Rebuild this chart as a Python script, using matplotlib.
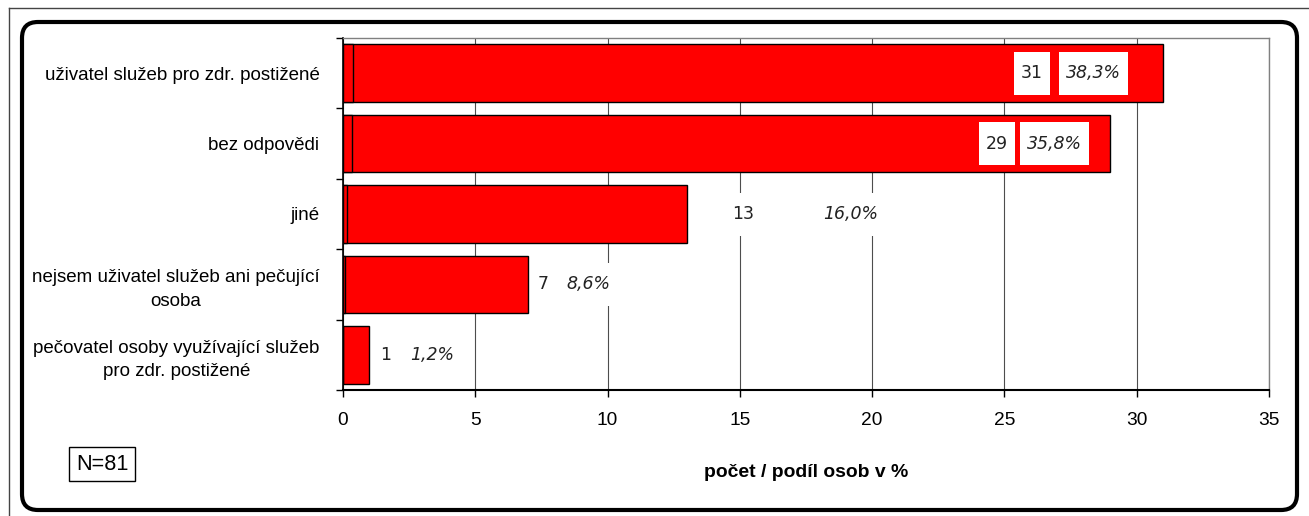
import matplotlib
matplotlib.use("Agg")
import matplotlib.pyplot as plt
from matplotlib import font_manager
from matplotlib.patches import FancyBboxPatch, Rectangle
from matplotlib.lines import Line2D
from matplotlib.transforms import IdentityTransform

categories = [
    "uživatel služeb pro zdr. postižené",
    "bez odpovědi",
    "jiné",
    "nejsem uživatel služeb ani pečující\nosoba",
    "pečovatel osoby využívající služeb\npro zdr. postižené",
]
counts = [31, 29, 13, 7, 1]
percents = [38.3, 35.8, 16.0, 8.6, 1.2]
xticks = [0, 5, 10, 15, 20, 25, 30, 35]
total_n = 81

# label offsets from bar end, in pixels (count label, percent label)
count_off = [-131, -113, 56, 15, 16]
pct_off = [-70, -56, 164, 60, 63]

names = {f.name for f in font_manager.fontManager.ttflist}
if "Liberation Sans Narrow" in names:
    base_font = ["Liberation Sans Narrow", "Liberation Sans", "DejaVu Sans"]
    scale = 1.0
else:
    base_font = ["Liberation Sans", "DejaVu Sans"]
    scale = 0.82

plt.rcParams["font.family"] = base_font

W, H = 1309, 516
fig = plt.figure(figsize=(W / 100, H / 100), dpi=100)
ax = fig.add_axes([343 / W, 1 - 390 / H, (1269 - 343) / W, (390 - 38) / H])

y = list(range(len(categories)))
ax.barh(y, counts, height=0.82, color="#ff0000", edgecolor="black",
        linewidth=1.0, zorder=3)
ax.barh(y, [p / 100 for p in percents], height=0.82, color="#ff0000",
        edgecolor="black", linewidth=1.0, zorder=3)

ax.set_xlim(0, 35)
ax.set_ylim(len(categories) - 0.5, -0.5)
ax.set_xticks(xticks)
ax.set_xticklabels([str(t) for t in xticks], fontsize=16.8 * scale)
ax.xaxis.grid(True, color="#4d4d4d", linewidth=0.8, zorder=0)
ax.tick_params(axis="x", direction="out", length=5, width=1, pad=11)

# category boundaries as major ticks, names as minor ticks
ax.set_yticks([i - 0.5 for i in range(len(categories) + 1)])
ax.set_yticklabels([])
ax.set_yticks(y, minor=True)
ax.set_yticklabels(categories, minor=True, fontsize=16.5 * scale,
                   ha="right", multialignment="center", linespacing=1.5)
ax.tick_params(axis="y", which="major", direction="out", length=5, width=1)
ax.tick_params(axis="y", which="minor", length=0, pad=17)

for side in ("top", "right"):
    ax.spines[side].set_color("#808080")
    ax.spines[side].set_linewidth(1.0)
ax.spines["left"].set_linewidth(1.2)
ax.spines["bottom"].set_linewidth(1.5)

ax.set_xlabel("počet / podíl osob v %", fontsize=17 * scale,
              fontweight="bold", labelpad=25)

labels = []
for i in range(len(categories)):
    t1 = ax.annotate(str(counts[i]), (counts[i], i),
                     xytext=(count_off[i], 0), textcoords="offset pixels",
                     ha="center", va="center", fontsize=12.5,
                     family="DejaVu Sans", color="#222222", zorder=6)
    t2 = ax.annotate(f"{percents[i]:.1f}%".replace(".", ","), (counts[i], i),
                     xytext=(pct_off[i], 0), textcoords="offset pixels",
                     ha="center", va="center", fontsize=12.5,
                     family="DejaVu Sans", style="italic", color="#222222",
                     zorder=6)
    labels += [t1, t2]

# N box
fig.text(102 / W, 1 - 464 / H, f"N={total_n}", fontsize=19 * scale,
         ha="center", va="center",
         bbox=dict(boxstyle="square,pad=0.32", facecolor="white",
                   edgecolor="black", linewidth=1.0))

# white backing boxes behind the data labels
fig.canvas.draw()
renderer = fig.canvas.get_renderer()
for t in labels:
    bb = t.get_window_extent(renderer)
    yc = (bb.y0 + bb.y1) / 2
    ax.add_patch(Rectangle((bb.x0 - 7, yc - 21.5), bb.width + 14, 43,
                           transform=IdentityTransform(), facecolor="white",
                           edgecolor="none", zorder=5))
ax.set_xlim(0, 35)
ax.set_ylim(len(categories) - 0.5, -0.5)

# rounded chart frame and outer sheet edge
frame = FancyBboxPatch((22, H - 510), 1297 - 22, 510 - 22,
                       boxstyle="round,pad=0,rounding_size=16",
                       transform=IdentityTransform(), facecolor="none",
                       edgecolor="black", linewidth=3.0)
fig.patches.append(frame)
fig.lines.append(Line2D([9, W], [H - 8, H - 8], transform=IdentityTransform(),
                        color="#444444", linewidth=1.0))
fig.lines.append(Line2D([9, 9], [0, H - 8], transform=IdentityTransform(),
                        color="#444444", linewidth=1.0))

fig.savefig("out.png", dpi=100)
